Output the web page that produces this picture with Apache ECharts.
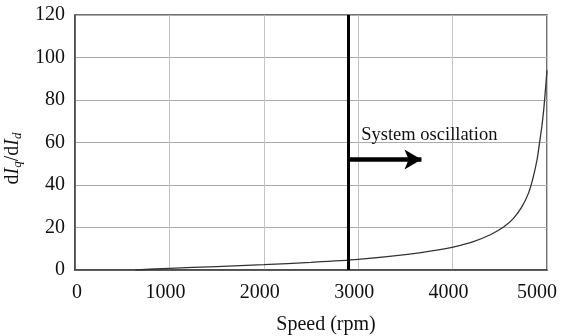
<!DOCTYPE html>
<html><head><meta charset="utf-8">
<script src="https://cdn.jsdelivr.net/npm/echarts@6/dist/echarts.min.js"></script>
<style>html,body{margin:0;padding:0;background:#fff}#c{width:561px;height:336px}</style>
</head><body><div id="c"></div>
<script>
const speed = [640, 1000, 1500, 2000, 2500, 3000, 3500, 3865, 4005, 4220, 4400, 4540, 4645, 4735, 4805, 4850, 4895, 4920, 4945, 4965, 4982, 5000];
const ratio = [0, 0.8, 1.6, 2.5, 3.6, 5.0, 7.2, 9.6, 10.8, 13.4, 16.6, 20.2, 24.3, 29.8, 36.3, 43.0, 52.0, 59.6, 67.4, 75.3, 84, 94];
const xTicks = [0, 1000, 2000, 3000, 4000, 5000];
const yTicks = [0, 20, 40, 60, 80, 100, 120];
const limitSpeed = 2890;
const arrowY = 52;
const arrowEnd = 3670;
const noteX = 3032;
const noteY = 63.5;
const noteText = 'System oscillation';

const font = 'Liberation Serif';
const chart = echarts.init(document.getElementById('c'), null, {renderer: 'canvas'});
chart.setOption({
  animation: false,
  grid: {left: 75, right: 14, top: 15, bottom: 66, containLabel: false, outerBoundsMode: 'none',
    show: true, borderColor: '#444', borderWidth: 1.5, backgroundColor: 'transparent'},
  xAxis: {
    type: 'value', min: xTicks[0], max: xTicks[xTicks.length - 1], interval: 1000,
    name: 'Speed (rpm)', nameLocation: 'middle', nameGap: 45,
    nameTextStyle: {fontFamily: font, fontSize: 20, color: '#111', padding: [0, 0, 0, 30]},
    axisLine: {lineStyle: {color: '#444', width: 1.5}},
    axisTick: {show: false},
    axisLabel: {fontFamily: font, fontSize: 20, color: '#111', margin: 13,
      formatter: v => v === xTicks[xTicks.length - 1] ? '{m|' + v + '}' : (v === 0 ? '{z|0}' : '{n|' + v + '}'),
      rich: {
        m: {fontFamily: font, fontSize: 20, color: '#111', padding: [0, 20, 0, 0]},
        n: {fontFamily: font, fontSize: 20, color: '#111', padding: [0, 8, 0, 0]},
        z: {fontFamily: font, fontSize: 20, color: '#111', padding: [0, 0, 0, 4]}
      }},
    splitLine: {lineStyle: {color: '#c4c4c4', width: 1}}
  },
  yAxis: {
    type: 'value', min: yTicks[0], max: yTicks[yTicks.length - 1], interval: 20,
    name: 'd{i|I}{s|q}/d{i|I}{s|d}', nameLocation: 'middle', nameGap: 40, nameRotate: 90,
    nameTextStyle: {fontFamily: font, fontSize: 20, color: '#111', padding: [0, 32, 0, 0],
      rich: {
        i: {fontFamily: font, fontSize: 20, fontStyle: 'italic', color: '#111'},
        s: {fontFamily: font, fontSize: 13, fontStyle: 'italic', color: '#111', padding: [10, 0, 0, 0]}
      }},
    axisLine: {lineStyle: {color: '#444', width: 1.5}},
    axisTick: {show: false},
    axisLabel: {fontFamily: font, fontSize: 20, color: '#111', margin: 10, formatter: v => String(v)},
    splitLine: {lineStyle: {color: '#ababab', width: 1}}
  },
  series: [{
    type: 'line', smooth: 0.3, showSymbol: false,
    data: speed.map((s, i) => [s, ratio[i]]),
    lineStyle: {color: '#333', width: 1.3},
    markLine: {
      silent: true, animation: false,
      label: {show: false},
      data: [
        [{coord: [limitSpeed, yTicks[0]], symbol: 'none', lineStyle: {color: '#000', width: 3, type: 'solid'}},
         {coord: [limitSpeed, yTicks[yTicks.length - 1]], symbol: 'none'}],
        [{coord: [limitSpeed, arrowY], symbol: 'none', lineStyle: {color: '#000', width: 4.5, type: 'solid'}},
         {coord: [arrowEnd, arrowY], symbol: 'arrow', symbolSize: [15, 17]}]
      ]
    },
    markPoint: {
      silent: true, symbol: 'circle', symbolSize: 0,
      data: [{coord: [noteX, noteY], value: noteText}],
      label: {show: true, position: 'right', distance: 0, formatter: noteText,
        fontFamily: font, fontSize: 18.5, color: '#111'}
    }
  }]
});
</script></body></html>
